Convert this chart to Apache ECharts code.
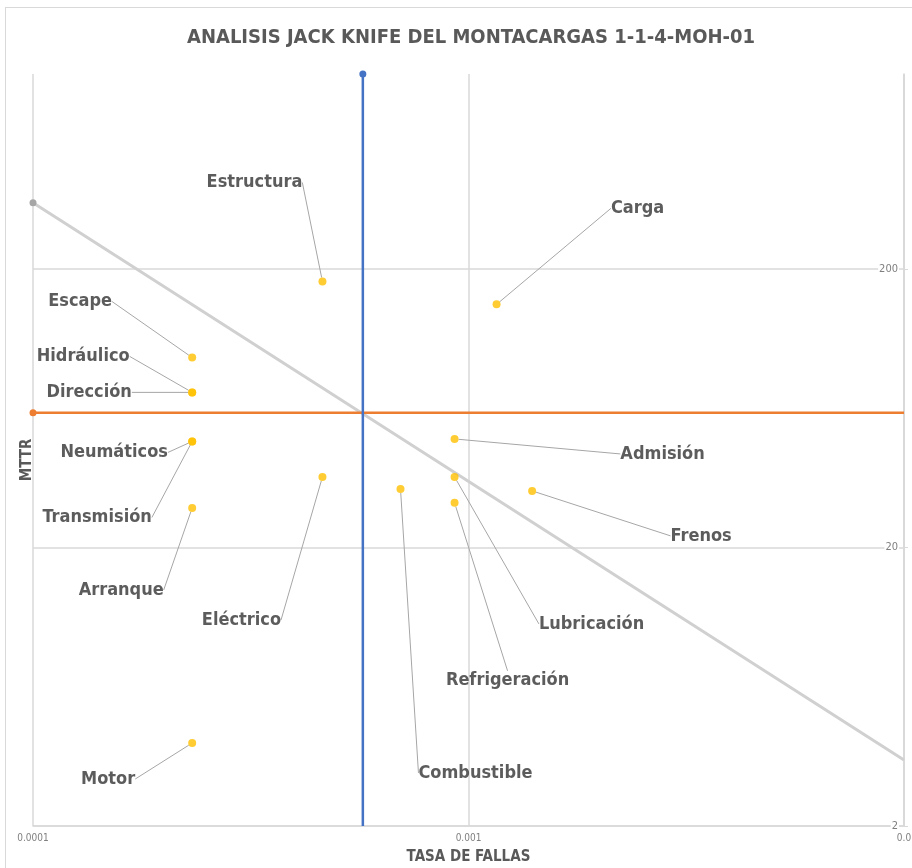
<!DOCTYPE html>
<html>
<head>
<meta charset="utf-8">
<script src="https://cdn.jsdelivr.net/npm/echarts@6/dist/echarts.min.js"></script>
<style>
  html, body { margin: 0; padding: 0; background: #fff; overflow: hidden; width: 912px; height: 868px; }
  #frame { position: absolute; left: 5px; top: 7px; width: 907px; height: 861px; box-sizing: border-box;
           border-left: 1px solid #d9d9d9; border-top: 1px solid #d9d9d9; }
  #chart { position: absolute; left: 0; top: 0; width: 912px; height: 868px; }
</style>
</head>
<body>
<div id="frame"></div>
<div id="chart"></div>
<script>
// componentes del montacargas
const categories = ['Estructura', 'Carga', 'Escape', 'Hidráulico', 'Dirección', 'Neumáticos',
  'Transmisión', 'Arranque', 'Motor', 'Eléctrico', 'Combustible', 'Admisión',
  'Lubricación', 'Refrigeración', 'Frenos'];
// tasa de fallas
const failureRate = [0.000462, 0.00116, 0.000232, 0.000232, 0.000232, 0.000232,
  0.000232, 0.000232, 0.000232, 0.000462, 0.000698, 0.000929,
  0.000929, 0.000929, 0.00140];
// MTTR
const mttr = [180, 149, 96, 72, 72, 48, 48, 27.7, 3.97, 35.8, 32.4, 49.0, 35.8, 28.9, 31.9];

// umbrales y linea de indisponibilidad constante
const rateLimit = 0.000572;
const mttrLimit = 60.8;
const downtimeLine = [[0.0001, 345], [0.01, 3.45]];

// ejes
const xTickLabels = ['0.0001', '0.001', '0.0'];
const yMin = 2;
const yMax = 1000;

// desplazamiento de las etiquetas (px)
const labelOffsets = [[-68, -99], [141, -96], [-112, -56], [-109, -36], [-103, 0], [-78, 11],
  [-95, 76], [-71, 82], [-84, 36], [-81, 143], [75, 284], [208, 15],
  [137, 147], [53, 177], [169, 45]];

const ly = v => Math.log10(v / yMin);
const FONT = '"DejaVu Sans Condensed", "Liberation Sans Narrow", "Liberation Sans", sans-serif';

const chart = echarts.init(document.getElementById('chart'));

chart.setOption({
  animation: false,
  title: {
    text: 'ANALISIS JACK KNIFE DEL MONTACARGAS 1-1-4-MOH-01',
    left: 466,
    top: 23,
    textAlign: 'center',
    textStyle: { fontFamily: FONT, fontSize: 20, fontWeight: 'bold', color: '#595959' }
  },
  graphic: [{
    type: 'text',
    x: 27,
    y: 460,
    rotation: Math.PI / 2,
    style: {
      text: 'MTTR', fontFamily: FONT, fontSize: 15, fontWeight: 'bold', fill: '#595959',
      align: 'center', verticalAlign: 'middle'
    }
  }],
  grid: { left: 33, right: 8, top: 74, bottom: 42, outerBoundsMode: 'none', containLabel: false },
  xAxis: {
    type: 'log',
    logBase: 10,
    min: 0.0001,
    max: 0.01,
    name: 'TASA DE FALLAS',
    nameLocation: 'middle',
    nameGap: 24,
    nameTextStyle: { fontFamily: FONT, fontSize: 15, fontWeight: 'bold', color: '#595959' },
    axisLine: { lineStyle: { color: '#d9d9d9', width: 1.5 } },
    axisTick: { show: false },
    axisLabel: {
      fontFamily: FONT, fontSize: 10, color: '#7f7f7f', margin: 7,
      formatter: v => xTickLabels[Math.round(Math.log10(v)) + 4]
    },
    splitLine: { show: true, lineStyle: { color: '#d9d9d9', width: 1.5 } }
  },
  yAxis: {
    type: 'value',
    position: 'right',
    min: 0,
    max: ly(yMax),
    interval: 1,
    axisLine: { show: true, lineStyle: { color: '#d9d9d9', width: 1.5 } },
    axisTick: { show: true, inside: false, length: 4, lineStyle: { color: '#d9d9d9' } },
    axisLabel: {
      inside: true, margin: 5, showMaxLabel: false,
      fontFamily: FONT, fontSize: 11, color: '#7f7f7f',
      backgroundColor: '#fff', padding: [0, 1],
      formatter: v => String(Math.round(yMin * Math.pow(10, v)))
    },
    splitLine: { show: true, showMaxLine: false, lineStyle: { color: '#d9d9d9', width: 1.5 } }
  },
  series: [
    {
      type: 'line',
      data: downtimeLine.map((p, i) => ({
        value: [p[0], ly(p[1])], symbol: i === 0 ? 'circle' : 'none'
      })),
      symbolSize: 7,
      itemStyle: { color: '#a6a6a6' },
      lineStyle: { color: '#d0d0d0', width: 3 },
      z: 1
    },
    {
      type: 'line',
      data: [
        { value: [0.0001, ly(mttrLimit)], symbol: 'circle' },
        { value: [0.01, ly(mttrLimit)], symbol: 'none' }
      ],
      symbolSize: 7,
      itemStyle: { color: '#ed7d31' },
      lineStyle: { color: '#ed7d31', width: 2.5 },
      z: 2
    },
    {
      type: 'line',
      data: [
        { value: [rateLimit, ly(yMin)], symbol: 'none' },
        { value: [rateLimit, ly(yMax)], symbol: 'circle' }
      ],
      symbolSize: 7,
      itemStyle: { color: '#4472c4' },
      lineStyle: { color: '#4472c4', width: 2.5 },
      z: 3
    },
    {
      type: 'scatter',
      data: categories.map((c, i) => ({ name: c, value: [failureRate[i], ly(mttr[i])] })),
      symbolSize: 8,
      itemStyle: { color: '#ffc000' },
      z: 4,
      label: {
        show: true,
        position: 'inside',
        formatter: p => p.name,
        fontFamily: FONT, fontSize: 18, fontWeight: 'bold', color: '#333333'
      },
      labelLine: { show: true, lineStyle: { color: '#a6a6a6', width: 1 } },
      labelLayout: p => ({ dx: labelOffsets[p.dataIndex][0], dy: labelOffsets[p.dataIndex][1] })
    }
  ]
});
</script>
</body>
</html>
